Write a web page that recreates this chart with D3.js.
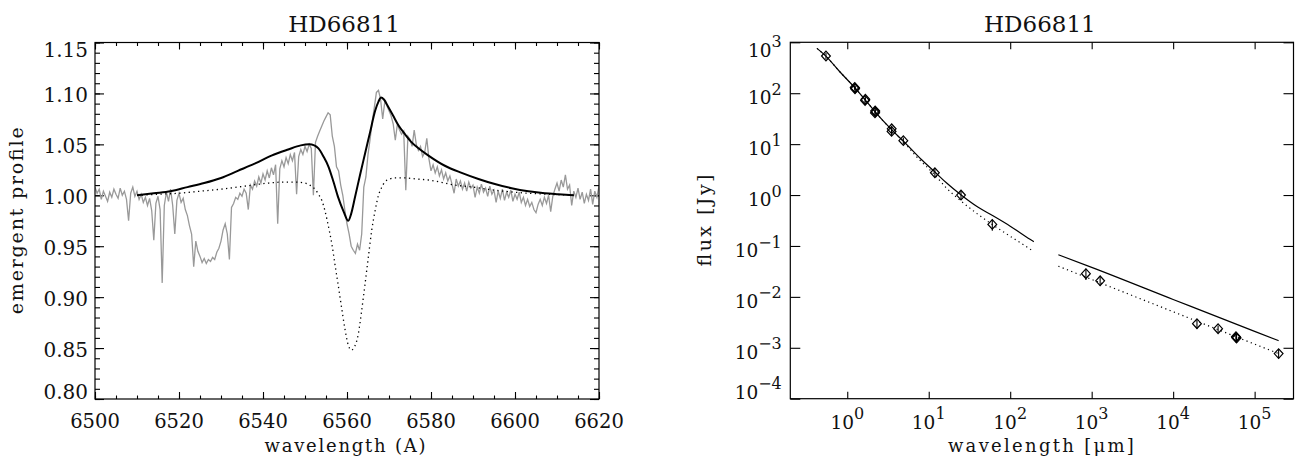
<!DOCTYPE html>
<html><head><meta charset="utf-8">
<script src="https://cdn.jsdelivr.net/npm/d3@7"></script>
<style>body{margin:0;background:#fff}svg{display:block}text{font-family:"DejaVu Serif",serif;fill:#111}</style>
</head><body>
<svg id="c" width="1300" height="459"></svg>
<script>
// ---------------- DATA ----------------
const titleText = "HD66811";
// Left panel: observed H-alpha profile, sampled every 0.5 A from 6500 A
const obsStart = 6500, obsStep = 0.5;
const obsFlux = [
1.008,1.002,1.006,0.996,1.004,0.999,0.994,1.003,0.998,1.006,1.001,0.997,1.007,1.000,1.004,0.996,0.975,1.002,1.008,0.999,1.004,
0.996,1.001,0.993,0.998,0.990,0.997,0.985,0.956,0.992,0.999,0.986,0.914,0.990,1.003,0.994,1.006,0.990,0.962,0.995,1.002,
0.993,0.997,0.986,0.980,0.970,0.962,0.930,0.955,0.945,0.940,0.934,0.938,0.933,0.937,0.935,0.939,0.937,0.944,0.948,0.955,
0.966,0.972,0.962,0.937,0.988,0.992,0.998,0.996,1.002,0.999,1.006,1.002,0.986,1.010,1.006,1.014,1.009,1.018,1.012,1.021,
1.015,1.024,1.017,1.027,1.020,1.030,0.972,1.026,1.034,1.028,1.037,1.031,1.040,1.034,1.042,1.001,1.038,1.045,1.040,1.048,
1.043,1.050,1.046,1.000,1.052,1.058,1.063,1.068,1.073,1.077,1.081,1.079,1.058,1.048,1.028,1.024,1.010,1.000,0.985,0.972,
0.962,0.950,0.946,0.943,0.952,0.946,0.962,1.008,1.018,1.040,1.055,1.072,1.086,1.101,1.103,1.094,1.075,1.092,1.088,1.083,
1.078,1.070,1.054,1.070,1.064,1.060,1.063,1.005,1.058,1.055,1.048,1.064,1.050,1.044,1.048,1.038,1.042,1.056,1.036,1.024,
1.030,1.022,1.028,1.019,1.025,1.016,1.022,1.014,1.019,1.011,1.002,1.016,1.009,1.014,1.006,1.012,1.004,1.013,1.007,1.010,
0.998,1.008,1.002,1.011,1.003,1.007,0.999,1.009,1.001,1.005,0.993,1.004,0.997,1.006,0.995,1.003,0.998,1.005,0.994,1.001,
0.996,1.003,0.993,0.998,0.990,0.996,0.989,0.993,0.986,0.983,0.991,0.996,0.990,0.998,0.992,1.000,0.984,0.999,1.006,1.012,
1.004,1.015,1.008,1.020,1.006,1.010,0.990,1.004,0.998,1.007,0.996,1.003,0.992,1.001,0.995,1.006,0.991,1.004,0.998,1.009];
// Full model (solid)
const modelWave = [6510,6514,6518,6522,6526,6530,6534,6538,6542,6546,6549,6551,6552.2,6553.2,6554.4,6555.6,6556.8,6557.9,6559.2,6560.3,6561.0,6561.9,6563.1,6564.3,6565.5,6566.7,6567.5,6568.1,6568.8,6569.8,6571,6572.2,6573.8,6575.4,6577.4,6579.4,6583.3,6587.3,6591.3,6595.2,6599.2,6603.2,6607.1,6610.3,6614];
const modelFlux = [1.000,1.002,1.004,1.008,1.012,1.017,1.024,1.031,1.039,1.045,1.049,1.050,1.049,1.046,1.038,1.028,1.013,0.998,0.984,0.975,0.982,0.998,1.020,1.041,1.062,1.083,1.092,1.096,1.094,1.087,1.078,1.069,1.060,1.052,1.045,1.039,1.029,1.022,1.016,1.011,1.007,1.004,1.002,1.001,1.000];
// Photospheric model (dotted)
const photWave = [6510,6515,6520,6525,6530,6535.7,6541.3,6545,6547.6,6550,6551.5,6552.4,6553.2,6554,6554.8,6555.6,6556.4,6557.1,6557.9,6558.7,6559.5,6560.3,6561.0,6561.6,6562.7,6563.5,6564.3,6565.1,6565.9,6566.7,6567.5,6568.3,6569.0,6570.2,6571.4,6573.8,6576.5,6579.4,6585.7,6590,6595.2,6603.2,6608,6614];
const photFlux = [1.000,1.001,1.002,1.004,1.006,1.009,1.012,1.013,1.013,1.012,1.009,1.006,1.001,0.995,0.984,0.969,0.952,0.933,0.912,0.890,0.869,0.853,0.848,0.850,0.864,0.887,0.913,0.940,0.966,0.985,1.000,1.008,1.013,1.016,1.017,1.017,1.016,1.015,1.010,1.008,1.005,1.002,1.001,1.000];
const leftYTicks = [0.80,0.85,0.90,0.95,1.00,1.05,1.10,1.15];
const leftXTicks = [6500,6520,6540,6560,6580,6600,6620];

// Right panel: SED photometry [micron], [Jy], relative error
const sedWave = [0.548,1.235,1.25,1.245,1.667,1.655,2.20,2.21,2.19,3.51,3.50,4.88,11.9,24.9,60.3,850,1270,19600,35600,59000,60000,59500,197000];
const sedFlux = [538,130,126,122,75.9,72,45,43,41,20.0,17.8,11.7,2.74,1.00,0.265,0.0285,0.0207,0.00297,0.00237,0.00165,0.00155,0.0016,0.00077];
const sedErr  = [0.15,0.1,0.1,0.1,0.12,0.12,0.1,0.1,0.1,0.15,0.15,0.15,0.2,0.2,0.25,0.25,0.2,0.2,0.15,0.2,0.2,0.2,0.2];
// Wind model (solid), two segments
const windWave1 = [0.425,0.55,0.8,1.25,1.65,2.2,3.5,4.9,8,12,16.6,25,40,60,100,175,195];
const windFlux1 = [760,530,270,126,75,43,19.2,11.4,5.1,2.8,1.72,1.0,0.58,0.40,0.245,0.135,0.121];
const windWave2 = [390,1000,10000,100000,197000];
const windFlux2 = [0.067,0.038,0.0089,0.0021,0.00138];
// Photosphere only (dotted), two segments
const photoWave1 = [0.425,0.55,0.8,1.25,1.65,2.2,3.5,4.9,7.1,12,16.6,25,40,60,100,175,195];
const photoFlux1 = [760,530,270,126,75,43,19.0,11.2,5.65,2.45,1.36,0.76,0.42,0.265,0.155,0.087,0.077];
const photoWave2 = [390,1000,10000,100000,197000];
const photoFlux2 = [0.040,0.022,0.0051,0.00118,0.00077];
const rightXTickExp = [0,1,2,3,4,5];
const rightYTickExp = [-4,-3,-2,-1,0,1,2,3];

// ---------------- DRAW ----------------
const svg = d3.select("#c");
const L = {l:95, r:599, t:42.5, b:399};
const R = {l:790.3, r:1293.5, t:42.3, b:398.7};

function cleanAxis(sel){ sel.select(".domain").remove(); sel.selectAll("line").attr("stroke","#000").attr("stroke-width",1.1); }

// ---- Left panel ----
const xL = d3.scaleLinear().domain([6500,6620]).range([L.l,L.r]);
const yL = d3.scaleLinear().domain([0.80,1.15]).range([L.b,L.t]);
const gL = svg.append("g");
const xMinorL = d3.range(6500,6621,5);
const yMinorL = d3.range(80,116,1).map(v=>v/100);
gL.append("g").attr("transform",`translate(0,${L.b})`).call(d3.axisBottom(xL).tickValues(xMinorL).tickSize(-3.5).tickFormat("")).call(cleanAxis);
gL.append("g").attr("transform",`translate(0,${L.b})`).call(d3.axisBottom(xL).tickValues(leftXTicks).tickSize(-7).tickFormat("")).call(cleanAxis);
gL.append("g").attr("transform",`translate(0,${L.t})`).call(d3.axisTop(xL).tickValues(xMinorL).tickSize(-3.5).tickFormat("")).call(cleanAxis);
gL.append("g").attr("transform",`translate(0,${L.t})`).call(d3.axisTop(xL).tickValues(leftXTicks).tickSize(-7).tickFormat("")).call(cleanAxis);
gL.append("g").attr("transform",`translate(${L.l},0)`).call(d3.axisLeft(yL).tickValues(yMinorL).tickSize(-5).tickFormat("")).call(cleanAxis);
gL.append("g").attr("transform",`translate(${L.l},0)`).call(d3.axisLeft(yL).tickValues(leftYTicks).tickSize(-9).tickFormat("")).call(cleanAxis);
gL.append("g").attr("transform",`translate(${L.r},0)`).call(d3.axisRight(yL).tickValues(yMinorL).tickSize(-5).tickFormat("")).call(cleanAxis);
gL.append("g").attr("transform",`translate(${L.r},0)`).call(d3.axisRight(yL).tickValues(leftYTicks).tickSize(-9).tickFormat("")).call(cleanAxis);

svg.append("clipPath").attr("id","clipL").append("rect").attr("x",L.l).attr("y",L.t).attr("width",L.r-L.l).attr("height",L.b-L.t);
const obsPts = obsFlux.map((v,i)=>[obsStart+i*obsStep, v]);
const lineL = d3.line().x(d=>xL(d[0])).y(d=>yL(d[1]));
const lineLs = d3.line().x(d=>xL(d[0])).y(d=>yL(d[1])).curve(d3.curveMonotoneX);
const dataL = gL.append("g").attr("clip-path","url(#clipL)");
dataL.append("path").attr("d",lineL(obsPts)).attr("fill","none").attr("stroke","#999").attr("stroke-width",1.3);
dataL.append("path").attr("d",lineLs(photWave.map((w,i)=>[w,photFlux[i]]))).attr("fill","none").attr("stroke","#000").attr("stroke-width",1.3).attr("stroke-dasharray","1.3,3.4");
dataL.append("path").attr("d",lineLs(modelWave.map((w,i)=>[w,modelFlux[i]]))).attr("fill","none").attr("stroke","#000").attr("stroke-width",2);
gL.append("rect").attr("x",L.l).attr("y",L.t).attr("width",L.r-L.l).attr("height",L.b-L.t).attr("fill","none").attr("stroke","#000").attr("stroke-width",1.2);

leftYTicks.forEach(v=>{
  let yc = Math.max(L.t+7, Math.min(L.b-7, yL(v)+1.5));
  gL.append("text").attr("x",L.l-7).attr("y",yc).attr("dy","0.36em").attr("text-anchor","end").attr("font-size",20).text(v.toFixed(2));
});
leftXTicks.forEach(v=>{
  gL.append("text").attr("x",xL(v)).attr("y",428).attr("text-anchor","middle").attr("font-size",19.5).text(v);
});
gL.append("text").attr("x",(L.l+L.r)/2-3).attr("y",31.5).attr("text-anchor","middle").attr("font-size",23).text(titleText);
gL.append("text").attr("x",(L.l+L.r)/2-2).attr("y",452).attr("text-anchor","middle").attr("font-size",18).attr("textLength",161).attr("lengthAdjust","spacing").text("wavelength (A)");
gL.append("text").attr("transform",`translate(22.5,${(L.t+L.b)/2}) rotate(-90)`).attr("text-anchor","middle").attr("font-size",19).attr("textLength",187).attr("lengthAdjust","spacing").text("emergent profile");

// ---- Right panel ----
const xR = d3.scaleLog().domain([0.2,3e5]).range([R.l,R.r]);
const yR = d3.scaleLog().domain([1e-4,1e3]).range([R.b,R.t]);
const gR = svg.append("g");
const xTV = rightXTickExp.map(e=>Math.pow(10,e));
const yTV = rightYTickExp.map(e=>Math.pow(10,e));
gR.append("g").attr("transform",`translate(0,${R.b})`).call(d3.axisBottom(xR).tickValues(xTV).tickSize(-7).tickFormat("")).call(cleanAxis);
gR.append("g").attr("transform",`translate(0,${R.t})`).call(d3.axisTop(xR).tickValues(xTV).tickSize(-7).tickFormat("")).call(cleanAxis);
gR.append("g").attr("transform",`translate(${R.l},0)`).call(d3.axisLeft(yR).tickValues(yTV).tickSize(-10).tickFormat("")).call(cleanAxis);
gR.append("g").attr("transform",`translate(${R.r},0)`).call(d3.axisRight(yR).tickValues(yTV).tickSize(-10).tickFormat("")).call(cleanAxis);

const lineR = d3.line().x(d=>xR(d[0])).y(d=>yR(d[1])).curve(d3.curveMonotoneX);
const zip = (a,b)=>a.map((w,i)=>[w,b[i]]);
[[photoWave1,photoFlux1],[photoWave2,photoFlux2]].forEach(s=>{
  gR.append("path").attr("d",lineR(zip(s[0],s[1]))).attr("fill","none").attr("stroke","#000").attr("stroke-width",1.2).attr("stroke-dasharray","1.2,3.4");
});
[[windWave1,windFlux1],[windWave2,windFlux2]].forEach(s=>{
  gR.append("path").attr("d",lineR(zip(s[0],s[1]))).attr("fill","none").attr("stroke","#000").attr("stroke-width",1.2);
});
const pts = gR.append("g");
sedWave.forEach((w,i)=>{
  const cx = xR(w), cy = yR(sedFlux[i]);
  const y1 = yR(sedFlux[i]*(1+sedErr[i])), y2 = yR(sedFlux[i]*(1-sedErr[i]));
  pts.append("path").attr("d",`M${cx-4.4},${cy}L${cx},${cy-4.8}L${cx+4.4},${cy}L${cx},${cy+4.8}Z`).attr("fill","none").attr("stroke","#000").attr("stroke-width",1.2);
  pts.append("line").attr("x1",cx).attr("x2",cx).attr("y1",y1).attr("y2",y2).attr("stroke","#000").attr("stroke-width",1.1);
});
gR.append("rect").attr("x",R.l).attr("y",R.t).attr("width",R.r-R.l).attr("height",R.b-R.t).attr("fill","none").attr("stroke","#000").attr("stroke-width",1.2);

function supLabel(g, x, y, exp, anchor){
  const t = g.append("text").attr("x",x).attr("y",y).attr("text-anchor",anchor).attr("font-size",18.5);
  t.append("tspan").text("10");
  t.append("tspan").attr("font-size",16).attr("dy",-9.5).text(exp<0 ? "\u2212"+(-exp) : String(exp));
  return t;
}
rightYTickExp.forEach(e=>{
  let yc = Math.max(R.t+8, Math.min(R.b-6.6, yR(Math.pow(10,e))+4.5));
  supLabel(gR, R.l-8.5, yc+6.6, e, "end");
});
rightXTickExp.forEach(e=>{
  supLabel(gR, xR(Math.pow(10,e)), 428.5, e, "middle");
});
gR.append("text").attr("x",(R.l+R.r)/2-2).attr("y",31.5).attr("text-anchor","middle").attr("font-size",23).text(titleText);
gR.append("text").attr("x",(R.l+R.r)/2-1).attr("y",452).attr("text-anchor","middle").attr("font-size",18).attr("textLength",186).attr("lengthAdjust","spacing").text("wavelength [\u03bcm]");
gR.append("text").attr("transform",`translate(711,${(R.t+R.b)/2}) rotate(-90)`).attr("text-anchor","middle").attr("font-size",19).attr("textLength",92).attr("lengthAdjust","spacing").text("flux [Jy]");
</script>
</body></html>
